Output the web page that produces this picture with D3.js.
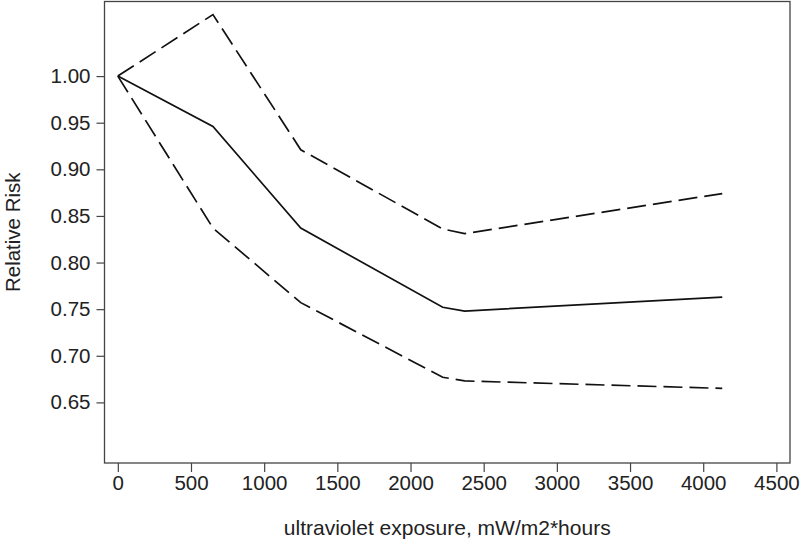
<!DOCTYPE html>
<html>
<head>
<meta charset="utf-8">
<script src="https://cdn.jsdelivr.net/npm/d3@7"></script>
<style>
  body { margin: 0; background: #fff; }
  svg text { font-family: "Liberation Sans", Arial, sans-serif; fill: #222; }
</style>
</head>
<body>
<svg id="chart" width="800" height="540"></svg>
<script>
// exposure points (mW/m2*hours), shared by all three curves
var exposure = [0, 650, 1250, 2220, 2370, 4130];
var rrEstimate = [1.00, 0.946, 0.837, 0.752, 0.748, 0.763];
var rrUpper    = [1.00, 1.066, 0.921, 0.836, 0.831, 0.874];
var rrLower    = [1.00, 0.837, 0.757, 0.677, 0.673, 0.665];

var xTicks = [0, 500, 1000, 1500, 2000, 2500, 3000, 3500, 4000, 4500];
var yTicks = [0.65, 0.70, 0.75, 0.80, 0.85, 0.90, 0.95, 1.00];

var svg = d3.select("#chart");

var plot = {left: 104.5, right: 790, top: 1.5, bottom: 463};

var x = d3.scaleLinear().domain([-91, 4593]).range([plot.left, plot.right]);
var y = d3.scaleLinear().domain([0.585, 1.080]).range([plot.bottom, plot.top]);

//axes
var xAxis = svg.append("g")
    .attr("transform", "translate(0," + plot.bottom + ")")
    .call(d3.axisBottom(x).tickValues(xTicks).tickSize(9).tickPadding(3).tickFormat(d3.format("d")));

var yAxis = svg.append("g")
    .attr("transform", "translate(" + plot.left + ",0)")
    .call(d3.axisLeft(y).tickValues(yTicks).tickSize(8).tickPadding(6).tickFormat(d3.format(".2f")));

[xAxis, yAxis].forEach(function(a){
  a.select(".domain").remove();
  a.selectAll(".tick line").attr("stroke", "#444").attr("stroke-width", 1.2);
  a.selectAll(".tick text").style("font-size", "20.5px").attr("fill", "#222");
});

// frame
svg.append("rect")
    .attr("x", plot.left)
    .attr("y", plot.top)
    .attr("width", plot.right - plot.left)
    .attr("height", plot.bottom - plot.top)
    .attr("fill", "none")
    .attr("stroke", "#444")
    .attr("stroke-width", 1.3);

var line = d3.line()
    .x(function(d){ return x(d[0]); })
    .y(function(d){ return y(d[1]); });

function series(vals){
  return exposure.map(function(e, i){ return [e, vals[i]]; });
}

svg.append("path")
    .attr("d", line(series(rrUpper)))
    .attr("fill", "none").attr("stroke", "#111").attr("stroke-width", 1.7)
    .attr("stroke-dasharray", "19,7");

svg.append("path")
    .attr("d", line(series(rrLower)))
    .attr("fill", "none").attr("stroke", "#111").attr("stroke-width", 1.7)
    .attr("stroke-dasharray", "19,7");

svg.append("path")
    .attr("d", line(series(rrEstimate)))
    .attr("fill", "none").attr("stroke", "#111").attr("stroke-width", 1.7);

// axis titles
svg.append("text")
    .attr("x", (plot.left + plot.right) / 2)
    .attr("y", 535)
    .attr("text-anchor", "middle")
    .style("font-size", "21px")
    .text("ultraviolet exposure, mW/m2*hours");

svg.append("text")
    .attr("transform", "translate(19.5," + ((plot.top + plot.bottom) / 2) + ") rotate(-90)")
    .attr("text-anchor", "middle")
    .style("font-size", "20.5px")
    .text("Relative Risk");
</script>
</body>
</html>
